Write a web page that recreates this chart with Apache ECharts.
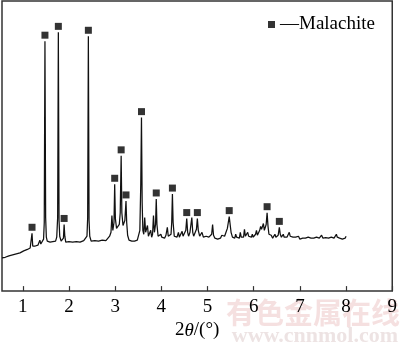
<!DOCTYPE html>
<html>
<head>
<meta charset="utf-8">
<script src="https://cdn.jsdelivr.net/npm/echarts@6/dist/echarts.min.js"></script>
<style>
  html, body { margin: 0; padding: 0; background: #fff; }
  #chart { width: 400px; height: 345px; }
</style>
</head>
<body>
<div id="chart"></div>
<script>
// XRD pattern: [2θ, intensity (a.u.)]
const pattern = [
  [0.55,34],[0.58,35],[0.62,34.5],[0.66,36],[0.70,36],[0.74,37.5],[0.78,37],[0.82,38.5],
  [0.86,38],[0.90,39.5],[0.94,39],[0.98,40.5],[1.02,41],[1.06,41.5],[1.10,42.5],[1.13,42],
  [1.16,44],[1.185,45],[1.20,59],[1.215,46],[1.24,44],[1.27,46],[1.30,45.5],[1.33,47],
  [1.35,47.5],[1.37,52],[1.39,48],[1.42,50],[1.45,53],[1.465,70],[1.48,255],[1.495,75],
  [1.51,55],[1.53,51],[1.56,51.5],[1.59,50],[1.62,51],[1.65,50.5],[1.68,51.5],[1.71,51],
  [1.735,55],[1.755,75],[1.77,264],[1.785,72],[1.80,56],[1.83,51],[1.86,52],[1.88,54],
  [1.895,68],[1.91,56],[1.93,50],[1.96,51],[2.00,50.5],[2.04,51.5],[2.08,50],[2.12,51],
  [2.16,50.5],[2.20,51.5],[2.24,50],[2.28,51],[2.32,51.5],[2.36,52],[2.39,56],[2.405,75],
  [2.42,260],[2.435,72],[2.45,56],[2.48,51],[2.52,50],[2.56,51.5],[2.60,50],[2.64,51],
  [2.68,50.5],[2.72,52],[2.76,51],[2.80,51.5],[2.84,52],[2.88,56],[2.91,60],[2.93,77],
  [2.95,62],[2.975,70],[2.99,109],[3.005,74],[3.03,64],[3.06,63],[3.09,68],[3.11,80],
  [3.13,138],[3.145,80],[3.17,67],[3.21,72],[3.235,92],[3.25,70],[3.27,57],[3.30,52],
  [3.33,53],[3.36,51],[3.39,52.5],[3.42,51],[3.45,53],[3.48,52],[3.51,54],[3.535,62],
  [3.555,110],[3.57,177],[3.585,90],[3.60,62],[3.62,58],[3.64,75],[3.66,60],[3.68,58],
  [3.70,67],[3.72,56],[3.75,57],[3.77,62],[3.79,55],[3.81,58],[3.83,77],[3.85,60],
  [3.875,68],[3.89,94],[3.905,68],[3.93,56],[3.96,54],[3.99,58],[4.01,55],[4.04,57],
  [4.07,54],[4.10,57],[4.13,65],[4.15,56],[4.18,55],[4.21,58],[4.225,70],[4.24,99],
  [4.255,70],[4.28,56],[4.31,58],[4.34,55],[4.37,60],[4.39,55],[4.42,57],[4.45,61],
  [4.47,56],[4.50,58],[4.53,62],[4.55,74],[4.57,60],[4.59,56],[4.62,60],[4.66,75],
  [4.68,60],[4.70,56],[4.73,58],[4.76,63],[4.78,74],[4.80,62],[4.83,56],[4.86,57],
  [4.88,60],[4.91,55],[4.94,54],[4.97,56],[5.00,54],[5.03,55],[5.06,56],[5.09,58],
  [5.11,68],[5.13,57],[5.16,54],[5.19,55],[5.22,53],[5.25,55],[5.28,54],[5.31,57],
  [5.34,58],[5.37,56],[5.40,60],[5.43,64],[5.45,70],[5.47,76],[5.49,68],[5.51,60],
  [5.54,55],[5.57,57],[5.59,54],[5.61,58],[5.63,55],[5.66,56],[5.69,54],[5.71,60],
  [5.73,55],[5.76,57],[5.78,55],[5.80,63],[5.82,56],[5.85,55],[5.87,60],[5.89,56],
  [5.92,54],[5.95,55],[5.97,58],[5.99,55],[6.02,56],[6.04,58],[6.06,62],[6.08,57],
  [6.11,59],[6.13,62],[6.15,66],[6.17,63],[6.19,65],[6.21,69],[6.23,62],[6.25,63],
  [6.27,68],[6.29,80],[6.31,66],[6.33,58],[6.36,56],[6.38,57],[6.41,54],[6.44,56],
  [6.46,58],[6.48,55],[6.51,55],[6.53,57],[6.555,65],[6.575,58],[6.60,55],[6.62,56],
  [6.64,58],[6.66,55],[6.69,54],[6.72,55],[6.74,57],[6.77,60],[6.79,56],[6.82,54],
  [6.85,55],[6.88,53],[6.91,55],[6.94,54],[6.97,56],[7.00,53],[7.03,55],[7.06,54],
  [7.09,52.5],[7.12,54],[7.15,53],[7.18,55],[7.21,53.5],[7.24,54],[7.27,52],[7.30,54],
  [7.33,53],[7.36,55],[7.39,53],[7.42,54],[7.45,56],[7.47,57],[7.50,54],[7.53,53],
  [7.56,54.5],[7.59,52.5],[7.62,54],[7.65,53],[7.68,55],[7.71,53],[7.74,54],[7.77,56],
  [7.79,58],[7.81,55],[7.83,57],[7.86,54],[7.89,55],[7.92,53],[7.95,55],[7.98,54],
  [8.00,56]
];

// Reflections assigned to malachite: [2θ, peak intensity]
const malachitePeaks = [
  [1.20,59],[1.48,255],[1.77,264],[1.895,68],[2.42,260],[2.99,109],[3.13,138],
  [3.235,92],[3.57,177],[3.89,94],[4.24,99],[4.55,74],[4.78,74],[5.47,76],
  [6.29,80],[6.555,65]
];

const tickValues = [1, 2, 3, 4, 5, 6, 7, 8, 9];
const seriesName = 'Malachite';

const serif = '"Liberation Serif", "Times New Roman", serif';
const chart = echarts.init(document.getElementById('chart'), null, { renderer: 'canvas' });

chart.setOption({
  animation: false,
  backgroundColor: '#fff',
  grid: {
    left: 2, right: 5, top: 1, bottom: 48,
    show: true, borderColor: '#333', borderWidth: 1.5, backgroundColor: 'transparent'
  },
  legend: {
    data: [seriesName],
    left: 263, top: 10,
    icon: 'rect', itemWidth: 7, itemHeight: 7,
    formatter: name => '—' + name,
    textStyle: { fontFamily: serif, fontSize: 19, color: '#000' }
  },
  graphic: [
    {
      type: 'text', right: 0, top: 298, z: -10, silent: true,
      style: { text: '有色金属在线', fontFamily: '"Noto Sans CJK SC"', fontSize: 29,
               fontWeight: 'bold', fill: 'rgba(225,160,160,0.33)' }
    },
    {
      type: 'text', right: 2, top: 325, z: -10, silent: true,
      style: { text: 'www.cnnmol.com', fontFamily: serif, fontSize: 22,
               fontWeight: 'bold', fill: 'rgba(200,170,170,0.33)' }
    }
  ],
  xAxis: {
    type: 'value', min: 0.55, max: 9,
    axisLine: { show: false },
    splitLine: { show: false },
    axisTick: {
      show: true, inside: true, length: 5, customValues: tickValues,
      lineStyle: { color: '#333', width: 1.2 }
    },
    axisLabel: {
      customValues: tickValues, margin: 6,
      fontFamily: serif, fontSize: 19, color: '#000'
    },
    name: '2{it|θ}/(°)',
    nameLocation: 'middle', nameGap: 29,
    nameTextStyle: {
      fontFamily: serif, fontSize: 19, color: '#000', verticalAlign: 'top',
      rich: { it: { fontFamily: serif, fontSize: 19, fontStyle: 'italic', color: '#000' } }
    }
  },
  yAxis: {
    type: 'value', min: 0, max: 296, show: false
  },
  series: [
    {
      type: 'line', name: 'pattern', data: pattern,
      showSymbol: false, symbol: 'none',
      lineStyle: { color: '#111', width: 1.25 },
      z: 2
    },
    {
      type: 'scatter', name: seriesName, data: malachitePeaks,
      symbol: 'rect', symbolSize: 7, symbolOffset: [0, -6],
      itemStyle: { color: '#000' },
      z: 3
    }
  ]
});
</script>
</body>
</html>
